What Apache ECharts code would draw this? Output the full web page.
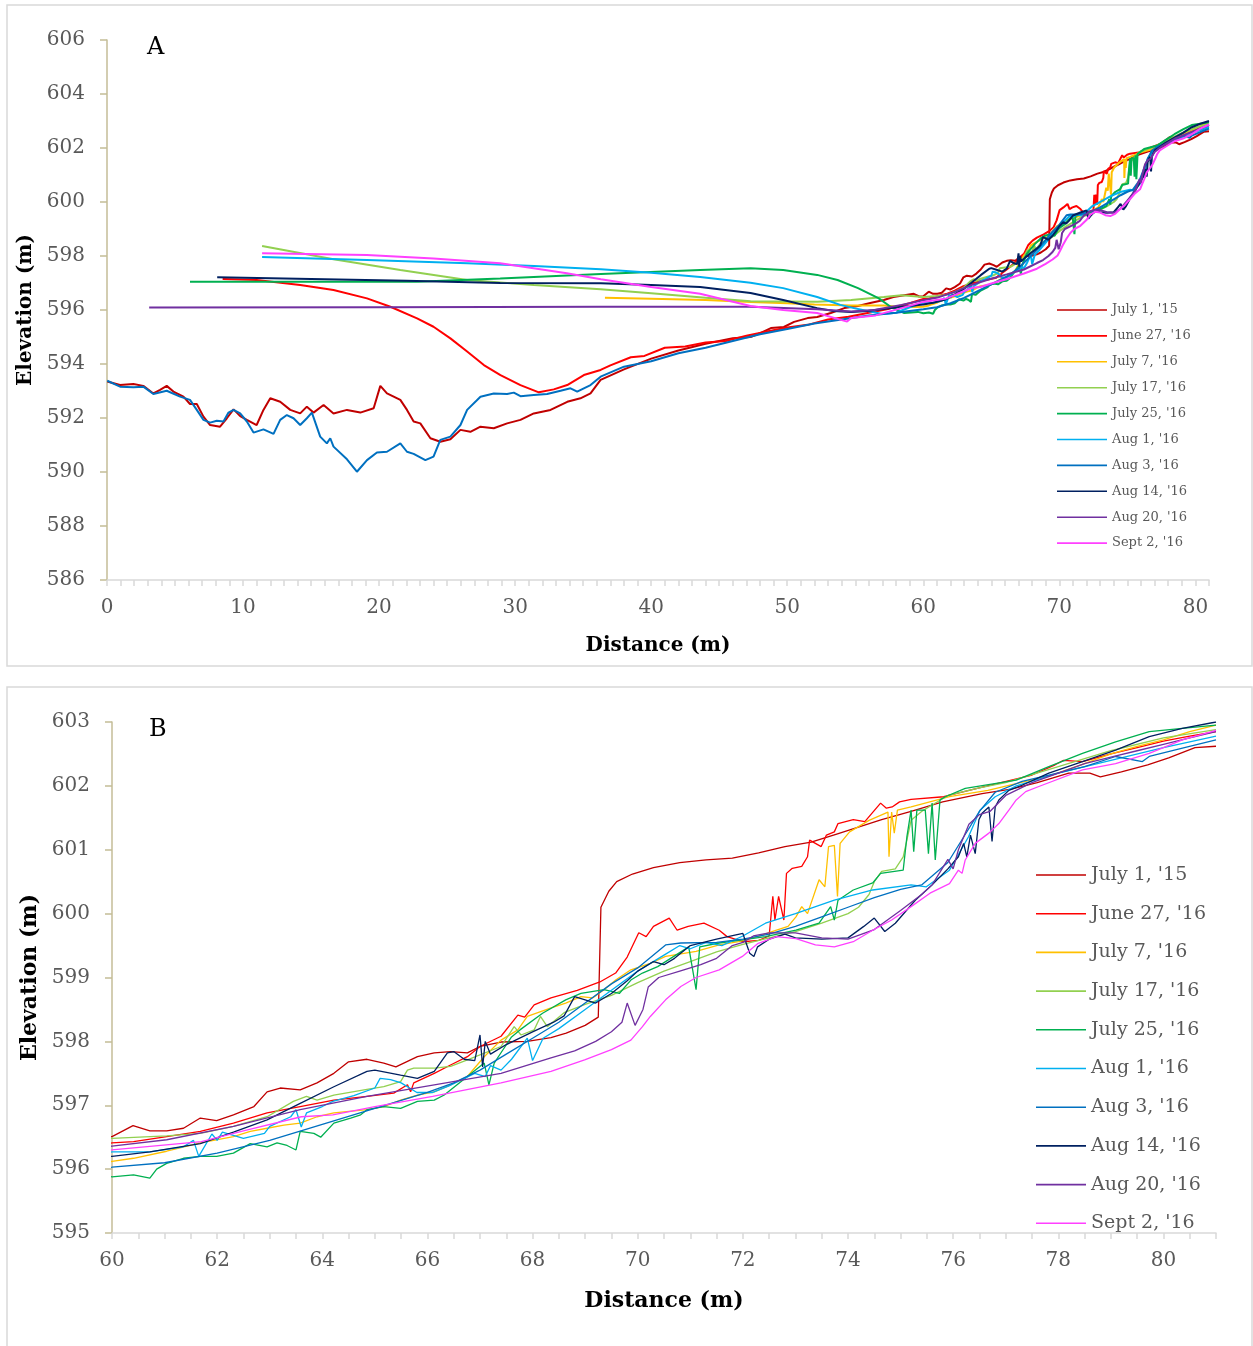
<!DOCTYPE html>
<html>
<head>
<meta charset="utf-8">
<script src="https://cdn.jsdelivr.net/npm/echarts@6/dist/echarts.min.js"></script>
<style>
  html, body { margin: 0; padding: 0; background: #ffffff; }
  #chart { width: 1253px; height: 1346px; }
</style>
</head>
<body>
<div id="chart"></div>
<script>
// Survey dates (legend order) and line colours
const surveyNames = ["July 1, '15", "June 27, '16", "July 7, '16", "July 17, '16", "July 25, '16",
                     "Aug 1, '16", "Aug 3, '16", "Aug 14, '16", "Aug 20, '16", "Sept 2, '16"];
const surveyColors = ['#c00000', '#ff0000', '#ffc000', '#92d050', '#00b050',
                      '#00b0f0', '#0070c0', '#002060', '#7030a0', '#ff40ff'];

// Tick settings for the two panels
const overviewTicks = { xMin: 0, xMax: 81, xStep: 1, xLabelEvery: 10, yMin: 586, yMax: 606, yStep: 2 };
const detailTicks   = { xMin: 60, xMax: 81, xStep: 0.5, xLabelEvery: 2, yMin: 595, yMax: 603, yStep: 1 };

// Profiles: [distance (m), elevation (m)]
const july1_15 = [
  [0.02,593.35],[0.96,593.22],[1.94,593.26],[2.67,593.19],[3.41,592.91],[3.9,593.04],[4.39,593.19],[4.88,592.98],
  [5.62,592.79],[6.1,592.52],[6.6,592.52],[7.09,592.05],[7.58,591.74],[8.31,591.68],[8.81,591.99],[9.3,592.32],
  [9.79,592.07],[10.28,591.93],[11.0,591.74],[11.5,592.3],[12.0,592.73],[12.73,592.6],[13.47,592.3],[14.2,592.17],
  [14.69,592.42],[15.18,592.2],[15.92,592.48],[16.65,592.17],[17.64,592.3],[18.62,592.2],[19.6,592.36],[20.09,593.19],
  [20.58,592.91],[21.56,592.67],[22.05,592.3],[22.54,591.87],[23.03,591.8],[23.77,591.25],[24.5,591.12],[25.24,591.21],
  [25.98,591.56],[26.71,591.49],[27.45,591.68],[28.43,591.62],[29.41,591.8],[30.39,591.93],[31.37,592.17],[32.6,592.3],
  [33.83,592.6],[34.8,592.73],[35.54,592.91],[36.28,593.41],[38,593.8],[40,594.2],[42,594.5],[44,594.75],[46,594.95],
  [47.3,595.0],[48.05,595.15],[48.8,595.33],[49.75,595.37],[50.5,595.56],[51.5,595.7],[52.2,595.74],[53.2,595.89],
  [54.2,596.07],[55.2,596.15],[56.1,596.26],[57.1,596.37],[57.8,596.48],[58.6,596.55],[59.3,596.6],[59.7,596.5],
  [60,596.51],[60.4,596.68],[60.72,596.6],[61.04,596.6],[61.36,596.64],[61.68,596.8],[61.99,596.76],[62.31,596.85],
  [62.7,596.98],[62.95,597.21],[63.2,597.27],[63.58,597.24],[63.9,597.35],[64.22,597.5],[64.5,597.68],[64.85,597.72],
  [65.17,597.66],[65.4,597.6],[65.81,597.76],[66.13,597.82],[66.44,597.84],[66.76,597.82],[67.0,597.92],[67.4,597.99],
  [67.9,598.0],[68.35,598.06],[68.64,598.13],[69.0,598.25],[69.25,598.38],[69.3,600.1],[69.45,600.35],[69.6,600.5],
  [69.9,600.62],[70.3,600.72],[70.8,600.8],[71.3,600.84],[71.8,600.87],[72.3,600.95],[72.8,601.05],[73.3,601.12],
  [73.8,601.25],[74.3,601.38],[74.64,601.47],[75.2,601.6],[75.8,601.75],[76.55,601.88],[77.1,601.95],[77.6,602.05],
  [78.2,602.2],[78.6,602.2],[78.8,602.14],[79.2,602.22],[79.7,602.33],[80.1,602.44],[80.6,602.6],[81.0,602.62]
];
const june27_16 = [
  [8.5,597.15],[11.0,597.11],[14.2,596.93],[16.65,596.74],[19.11,596.43],[20.83,596.12],[22.79,595.69],[24.0,595.38],
  [25.24,594.95],[26.47,594.46],[27.7,593.96],[28.92,593.59],[30.39,593.22],[31.74,592.95],[32.84,593.06],[33.83,593.22],
  [35.05,593.59],[36.28,593.78],[37,593.95],[38.5,594.25],[39.5,594.3],[41,594.6],[42.5,594.65],[44,594.8],[45.5,594.85],
  [47,595.05],[48.5,595.2],[50,595.35],[51.5,595.45],[53,595.65],[54.5,595.75],[56,595.9],[57.5,596.05],[59,596.25],
  [60,596.41],[60.41,596.43],[61.04,596.51],[61.68,596.59],[62.31,596.72],[62.95,596.88],[63.58,596.98],[64.22,597.08],
  [64.85,597.14],[65.36,597.19],[65.62,597.32],[65.68,597.21],[65.74,597.35],[66.13,597.5],[66.44,597.63],[66.76,597.76],
  [67.0,597.92],[67.4,598.08],[67.72,598.41],[67.85,598.38],[68.03,598.57],[68.35,598.68],[68.85,598.8],[69.28,598.93],
  [69.58,599.07],[69.8,599.32],[70.02,599.7],[70.16,599.64],[70.3,599.8],[70.6,599.93],[70.75,599.74],[70.96,599.8],
  [71.26,599.85],[71.55,599.74],[71.7,599.64],[72.0,599.56],[72.3,599.58],[72.5,599.65],[72.57,600.27],[72.61,599.9],
  [72.68,600.27],[72.78,599.9],[72.83,600.63],[72.94,600.71],[73.12,600.74],[73.23,600.89],[73.27,601.15],[73.38,601.1],
  [73.49,601.05],[73.59,601.23],[73.74,601.28],[73.81,601.41],[74.1,601.47],[74.32,601.44],[74.62,601.73],[74.73,601.65],
  [74.84,601.67],[74.98,601.75],[75.2,601.79],[75.82,601.83],[76.36,601.94],[77.5,602.17],[77.94,602.33],[78.1,602.4],
  [78.46,602.38],[79.0,602.5],[79.5,602.6],[80,602.7],[80.5,602.78],[81,602.85]
];
const july7_16 = [
  [36.6,596.45],[40,596.42],[44,596.37],[47.3,596.3],[50,596.25],[52,596.2],[54.7,596.17],[57.1,596.17],[58.5,596.1],
  [60,596.12],[60.41,596.17],[61.04,596.28],[61.68,596.41],[62.31,596.51],[62.63,596.59],[62.95,596.64],[63.27,596.69],
  [63.58,596.72],[63.9,596.82],[64.22,596.88],[64.85,596.93],[65.17,596.98],[65.49,597.08],[65.81,597.16],[66.13,597.21],
  [66.44,597.32],[66.76,597.45],[67.08,597.76],[67.4,598.02],[67.72,598.18],[67.9,598.39],[68.34,598.52],[68.63,598.6],
  [68.92,598.7],[69.14,598.68],[69.36,598.81],[69.58,598.96],[69.87,599.12],[70.24,599.22],[70.53,599.33],[71.11,599.41],
  [71.55,599.51],[71.92,599.56],[72.28,599.64],[72.64,599.74],[72.86,599.8],[73.01,599.95],[73.12,600.11],[73.23,600.0],
  [73.45,600.53],[73.56,600.42],[73.63,601.05],[73.74,601.07],[73.8,600.27],[73.85,601.1],[74.03,601.28],[74.4,601.46],
  [74.76,601.59],[74.78,600.89],[74.83,601.59],[74.88,601.26],[74.94,601.62],[75.2,601.67],[75.93,601.83],[76.66,601.93],
  [77.88,602.17],[78.5,602.35],[79,602.5],[79.5,602.62],[80,602.72],[80.5,602.85],[81,602.95]
];
const july17_16 = [
  [11.4,598.37],[16.65,597.88],[21.56,597.48],[26.47,597.11],[31.37,596.93],[36.28,596.77],[40,596.62],[44,596.45],
  [47.3,596.32],[52.2,596.31],[54.7,596.37],[57.1,596.48],[58.4,596.55],
  [60,596.48],[61.04,596.52],[61.68,596.56],[62.31,596.67],[62.95,596.82],[63.45,597.06],[63.7,597.14],[63.9,597.08],
  [64.22,597.16],[64.85,597.25],[65.17,597.29],[65.49,597.37],[65.62,597.55],[65.74,597.58],[66.13,597.58],[66.44,597.61],
  [66.76,597.71],[67.4,597.92],[67.65,598.23],[67.78,598.1],[68.03,598.18],[68.15,598.39],[68.28,598.23],[68.6,598.45],
  [69,598.58],[69.5,598.72],[70,598.92],[70.5,599.1],[71,599.25],[71.5,599.4],[72,599.52],[72.5,599.62],[73,599.72],
  [73.5,599.85],[74,600.0],[74.2,600.1],[74.4,600.3],[74.5,600.5],[74.64,600.66],[74.9,600.7],[75.05,600.89],[75.12,601.15],
  [75.2,601.46],[75.4,601.6],[75.6,601.7],[75.9,601.85],[76.5,601.97],[77,602.05],[78,602.3],[79,602.55],[80,602.75],[81,602.88]
];
const july25_16 = [
  [6.1,597.05],[15,597.05],[22.8,597.05],[28.9,597.17],[36.3,597.33],[43.6,597.48],[47.3,597.55],[49.7,597.48],
  [52.2,597.3],[53.7,597.11],[55.2,596.81],[56.7,596.44],[57.6,596.12],[58.6,595.89],[59.6,595.93],
  [60,595.88],[60.41,595.91],[60.72,595.86],[60.85,596.0],[61.04,596.09],[61.36,596.17],[61.68,596.2],[61.99,596.2],
  [62.31,596.25],[62.63,596.4],[62.95,596.35],[63.14,596.41],[63.33,596.37],[63.5,596.3],[63.58,596.59],[63.84,596.56],
  [63.97,596.5],[64.22,596.72],[64.54,596.8],[64.73,596.85],[64.85,596.93],[65.17,596.98],[65.49,596.95],[65.81,597.06],
  [66.13,597.08],[66.32,597.16],[66.76,597.45],[67.08,597.66],[67.17,597.32],[67.27,597.66],[67.39,597.81],[67.6,598.07],
  [67.76,598.18],[68.19,598.44],[68.63,598.65],[68.92,598.75],[69.36,598.81],[69.65,598.75],[69.87,598.96],[70.09,599.07],
  [70.38,599.17],[70.97,599.48],[71.11,598.81],[71.18,599.48],[71.55,599.54],[71.99,599.59],[72.43,599.64],[72.72,599.69],
  [73.01,599.74],[73.45,599.85],[73.67,600.11],[73.74,599.9],[73.81,600.21],[74.1,600.37],[74.47,600.48],[74.62,600.63],
  [75.05,600.68],[75.12,601.2],[75.2,601.62],[75.25,600.97],[75.31,601.62],[75.47,601.62],[75.53,600.94],[75.6,601.73],
  [75.66,600.84],[75.75,601.78],[75.85,601.83],[76.23,601.96],[77.2,602.09],[77.82,602.3],[78.46,602.51],[79.09,602.69],
  [79.73,602.85],[80.36,602.9],[81,602.95]
];
const aug1_16 = [
  [11.4,597.96],[19.1,597.85],[26.5,597.73],[31.4,597.63],[36.3,597.51],[40,597.38],[43.6,597.22],[47.3,597.01],
  [49.7,596.81],[52.2,596.48],[53.9,596.19],[54.9,596.07],[56,595.95],[57,595.85],[58,595.9],[59,596.1],
  [60,596.27],[60.72,596.27],[61.36,596.35],[61.55,596.45],[61.65,596.2],[61.9,596.55],[62.0,596.45],[62.1,596.58],
  [62.5,596.48],[62.9,596.56],[63.0,596.67],[63.4,596.82],[63.5,596.93],[63.6,596.66],[63.7,596.88],[64.0,596.98],
  [64.2,597.06],[64.6,597.15],[65.0,597.27],[65.1,597.42],[65.3,597.4],[65.5,597.35],[65.8,597.2],[66.1,597.2],
  [66.4,597.3],[66.9,597.5],[67.1,597.45],[67.2,597.62],[67.4,597.55],[67.6,597.72],[67.9,598.05],[68.0,597.7],
  [68.2,598.05],[68.5,598.2],[69,598.5],[69.5,598.8],[70,599.1],[70.5,599.35],[70.8,599.5],[71,599.45],[71.3,599.55],
  [71.6,599.5],[72,599.65],[72.43,599.85],[73,600.0],[73.74,600.21],[74.47,600.37],[75.2,600.45],[75.49,600.42],
  [75.93,600.68],[76.29,601.2],[76.51,601.62],[76.8,601.83],[77.2,602.0],[78,602.2],[79,602.4],[80,602.6],[81,602.78]
];
const aug3_16 = [
  [0.02,593.38],[0.96,593.16],[1.94,593.14],[2.67,593.16],[3.41,592.89],[4.39,593.01],[5.37,592.79],[6.1,592.67],
  [6.6,592.3],[7.09,591.93],[7.58,591.83],[8.07,591.9],[8.56,591.87],[8.93,592.2],[9.3,592.3],[9.79,592.17],
  [10.28,591.87],[10.77,591.46],[11.5,591.58],[12.24,591.41],[12.73,591.93],[13.22,592.11],[13.71,591.99],[14.2,591.74],
  [14.69,591.99],[15.06,592.2],[15.67,591.31],[16.16,591.06],[16.41,591.25],[16.65,590.94],[17.64,590.47],[18.37,590.01],
  [19.11,590.44],[19.84,590.72],[20.58,590.75],[21.56,591.06],[22.05,590.75],[22.54,590.67],[23.4,590.44],[24.0,590.57],
  [24.5,591.19],[25.24,591.31],[25.98,591.74],[26.47,592.3],[27.45,592.79],[28.43,592.91],[29.41,592.89],[29.9,592.94],
  [30.39,592.81],[31.37,592.85],[32.35,592.89],[33.34,593.01],[34.07,593.1],[34.56,592.98],[35.54,593.22],[36.28,593.53],
  [38,593.9],[40,594.1],[42,594.4],[44,594.6],[46,594.85],[48,595.1],[50,595.3],[52,595.5],[54,595.65],[56,595.8],[58,595.9],
  [60,596.03],[61,596.1],[62,596.25],[63,596.45],[64,596.7],[65,596.95],[66,597.2],[66.5,597.35],[67,597.55],[67.5,597.8],
  [68,598.05],[68.5,598.3],[69,598.6],[69.5,598.9],[70,599.15],[70.53,599.51],[70.82,599.54],[71.5,599.55],[72,599.6],
  [72.5,599.68],[73,599.8],[73.5,599.95],[74,600.1],[74.5,600.25],[75,600.38],[75.4,600.45],[75.9,600.8],[76.2,601.2],
  [76.5,601.6],[76.8,601.9],[77.31,602.07],[77.82,602.17],[78.5,602.3],[79.09,602.46],[79.6,602.38],[79.73,602.46],
  [80.4,602.6],[81,602.72]
];
const aug14_16 = [
  [8.1,597.21],[15,597.15],[22,597.08],[28.9,597.0],[36.3,596.99],[40,596.93],[43.6,596.85],[47.3,596.63],[49.7,596.37],
  [52.2,596.07],[53.4,595.96],[54.7,595.93],[55.9,595.96],[57.1,596.04],[58.35,596.12],[59.3,596.17],
  [60,596.2],[60.72,596.27],[61.68,596.4],[62.31,596.58],[62.95,596.77],[63.58,597.03],[64.22,597.29],[64.85,597.53],
  [65.0,597.55],[65.49,597.47],[65.81,597.42],[66.13,597.53],[66.38,597.82],[66.5,597.84],[66.7,597.72],[66.9,597.7],
  [67.0,598.1],[67.05,597.6],[67.1,598.0],[67.2,597.8],[67.5,597.95],[68,598.15],[68.4,598.3],[68.6,598.4],[68.8,598.7],
  [69,598.65],[69.2,598.6],[69.5,598.75],[69.8,598.95],[70,599.1],[70.3,599.25],[70.5,599.2],[70.7,599.3],[71,599.5],
  [71.5,599.6],[72,599.69],[72.13,599.38],[72.21,599.33],[72.28,599.48],[72.5,599.6],[72.8,599.68],[73,599.62],
  [73.5,599.6],[74,599.62],[74.3,599.8],[74.5,599.93],[74.7,599.72],[74.9,599.85],[75.28,600.21],[75.6,600.45],
  [75.9,600.7],[76.1,600.89],[76.2,601.1],[76.26,600.89],[76.33,601.23],[76.42,600.94],[76.49,601.47],[76.55,601.57],
  [76.68,601.67],[76.74,601.13],[76.8,601.67],[76.87,601.78],[77.06,601.93],[77.31,602.01],[77.82,602.2],[78.46,602.38],
  [79.09,602.56],[79.73,602.77],[80.36,602.9],[81,603.0]
];
const aug20_16 = [
  [3.1,596.09],[20,596.1],[36.3,596.12],[47.3,596.12],[52.2,596.03],[54.7,595.94],[56.4,596.0],[58.4,596.19],
  [60,596.36],[61.04,596.46],[62.31,596.67],[63.58,596.93],[64.85,597.14],[66.13,597.32],[67.4,597.5],[68.35,597.74],
  [68.8,597.85],[69.2,598.0],[69.5,598.15],[69.7,598.3],[69.8,598.6],[69.95,598.25],[70.1,598.5],[70.2,598.85],
  [70.4,599.0],[70.8,599.1],[71.2,599.2],[71.5,599.3],[71.8,599.5],[72.0,599.55],[72.2,599.65],[72.5,599.7],[73,599.7],
  [73.5,599.62],[74,599.6],[74.5,599.75],[75.0,600.05],[75.4,600.3],[75.6,600.45],[75.9,600.85],[76.0,600.7],[76.1,601.0],
  [76.3,601.4],[76.5,601.55],[76.7,601.6],[77,601.85],[77.5,602.05],[78,602.2],[78.5,602.35],[79,602.45],[79.5,602.55],
  [80,602.65],[80.5,602.75],[81,602.85]
];
const sept2_16 = [
  [11.4,598.1],[19.1,598.04],[24,597.91],[28.9,597.73],[33.8,597.36],[36.3,597.14],[40,596.85],[43.6,596.6],[47.3,596.15],
  [49.7,596.0],[52.2,595.89],[54.4,595.57],[54.7,595.7],[56.5,595.8],[58.4,596.07],
  [60,596.3],[61.7,596.43],[62.5,596.6],[63.6,596.82],[64.2,596.85],[65,596.98],[66.1,597.14],[67.4,597.35],[68.35,597.53],
  [68.99,597.71],[69.5,597.87],[69.87,598.02],[70.09,598.23],[70.24,598.39],[70.53,598.65],[70.82,598.86],[71.11,599.0],
  [71.55,599.12],[71.99,599.33],[72.28,599.53],[72.64,599.64],[73.01,599.61],[73.38,599.51],[73.74,599.48],[74.1,599.56],
  [74.47,599.74],[74.83,599.9],[75.2,600.11],[75.56,600.32],[75.93,600.47],[76.1,600.68],[76.17,600.63],[76.23,600.84],
  [76.42,601.1],[76.68,601.26],[76.87,601.41],[77.06,601.62],[77.2,601.78],[77.38,601.91],[77.63,601.99],[78.46,602.25],
  [79.09,602.35],[79.73,602.51],[80.36,602.72],[81,602.87]
];

const profiles = [july1_15, june27_16, july7_16, july17_16, july25_16, aug1_16, aug3_16, aug14_16, aug20_16, sept2_16];

const serif = 'DejaVu Serif';
const labelGrey = '#595959';
// Plain horizontal stroke used as the legend key
const legendStroke = 'path://M0,0L50,0L50,1.6L0,1.6Z';

function isMultiple(v, step) {
  return Math.abs(v / step - Math.round(v / step)) < 1e-6;
}

function xAxisFor(t, gridIndex, nameGap, nameSize) {
  return {
    type: 'value', gridIndex, min: t.xMin, max: t.xMax, interval: t.xStep,
    name: 'Distance (m)', nameLocation: 'middle', nameGap,
    nameTextStyle: { fontFamily: serif, fontWeight: 'bold', fontSize: nameSize, color: '#000' },
    axisLine: { show: true, onZero: false, lineStyle: { color: '#d9d9d9', width: 1.5 } },
    axisTick: { show: true, length: 6, lineStyle: { color: '#d9d9d9', width: 1.5 } },
    axisLabel: {
      margin: 18, fontFamily: serif, fontSize: 20, color: labelGrey,
      showMaxLabel: true,
      formatter: v => (isMultiple(v, t.xLabelEvery) && v <= 80 ? String(Math.round(v)) : '')
    },
    splitLine: { show: false }
  };
}

function yAxisFor(t, gridIndex, nameGap, nameSize) {
  return {
    type: 'value', gridIndex, min: t.yMin, max: t.yMax, interval: t.yStep,
    name: 'Elevation (m)', nameLocation: 'middle', nameGap, nameRotate: 90,
    nameTextStyle: { fontFamily: serif, fontWeight: 'bold', fontSize: nameSize, color: '#000' },
    axisLine: { show: true, onZero: false, lineStyle: { color: '#c4bd97', width: 1.5 } },
    axisTick: { show: true, length: 7, lineStyle: { color: '#c4bd97', width: 1.5 } },
    axisLabel: { margin: 22, fontFamily: serif, fontSize: 20, color: labelGrey },
    splitLine: { show: false }
  };
}

const series = [];
profiles.forEach((data, i) => {
  const base = {
    name: surveyNames[i], type: 'line', data, symbol: 'none', showSymbol: false,
    itemStyle: { color: surveyColors[i] }, animation: false
  };
  series.push(Object.assign({}, base, { xAxisIndex: 0, yAxisIndex: 0,
    lineStyle: { color: surveyColors[i], width: 2 } }));
  series.push(Object.assign({}, base, { xAxisIndex: 1, yAxisIndex: 1,
    lineStyle: { color: surveyColors[i], width: 1.3 } }));
});

const chart = echarts.init(document.getElementById('chart'), null, { renderer: 'canvas' });
chart.setOption({
  backgroundColor: '#ffffff',
  animation: false,
  grid: [
    { left: 107, top: 40, width: 1102, height: 540 },
    { left: 112, top: 722, width: 1104, height: 511 }
  ],
  xAxis: [xAxisFor(overviewTicks, 0, 56, 20), xAxisFor(detailTicks, 1, 57, 22)],
  yAxis: [yAxisFor(overviewTicks, 0, 69, 20), yAxisFor(detailTicks, 1, 71, 22)],
  legend: [
    {
      left: 1057, top: 303, orient: 'vertical', padding: 0, itemWidth: 50, itemHeight: 14, itemGap: 11.9,
      icon: legendStroke, data: surveyNames, selectedMode: false,
      textStyle: { fontFamily: serif, fontSize: 13, color: labelGrey, lineHeight: 14 }
    },
    {
      left: 1036, top: 864, orient: 'vertical', padding: 0, itemWidth: 50, itemHeight: 22, itemGap: 16.7,
      icon: legendStroke, data: surveyNames, selectedMode: false,
      textStyle: { fontFamily: serif, fontSize: 19, color: labelGrey, lineHeight: 22 }
    }
  ],
  graphic: [
    { type: 'rect', shape: { x: 7, y: 5, width: 1245, height: 661 }, style: { fill: 'none', stroke: '#d9d9d9', lineWidth: 1.5 }, silent: true },
    { type: 'rect', shape: { x: 7, y: 687, width: 1245, height: 680 }, style: { fill: 'none', stroke: '#d9d9d9', lineWidth: 1.5 }, silent: true },
    { type: 'text', left: 147, top: 36, style: { text: 'A', font: '24px "DejaVu Serif"', fill: '#000' } },
    { type: 'text', left: 149, top: 718, style: { text: 'B', font: '24px "DejaVu Serif"', fill: '#000' } }
  ],
  series
});
</script>
</body>
</html>
